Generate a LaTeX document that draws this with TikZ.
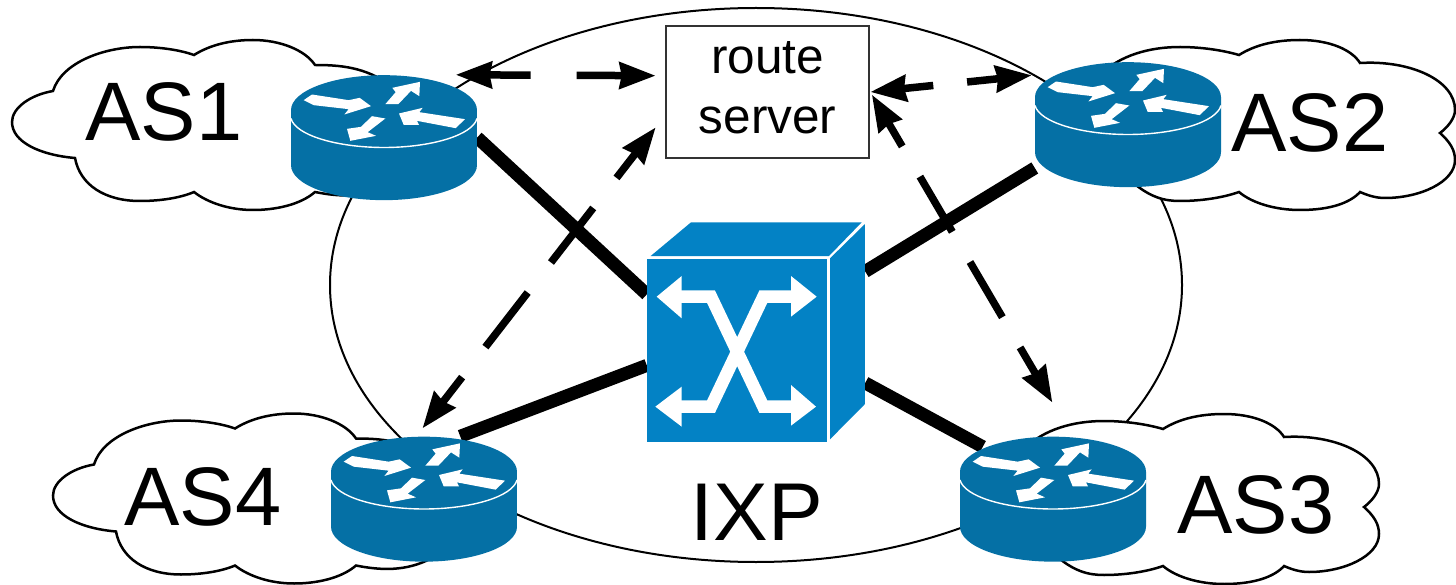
\documentclass[tikz,border=0pt]{standalone}
\usepackage{fontspec}
\setmainfont{Liberation Sans}
\usetikzlibrary{arrows.meta}
\definecolor{routerblue}{HTML}{0570A5}
\definecolor{switchblue}{HTML}{0382C5}
\tikzset{
  x=1pt,y=-1pt,
  cloudline/.style={draw=black,fill=white,line width=2.5pt},
  bigoval/.style={draw=black,line width=2pt},
  trunk/.style={draw=black,line width=13pt},
  signal/.style={draw=black,line width=7.5pt,
    {Stealth[length=36pt,width=26pt,inset=2pt]}-{Stealth[length=36pt,width=26pt,inset=2pt]}},
  label/.style={font=\fontsize{83}{83}\selectfont,anchor=base,inner sep=0pt},
  portbox/.style={inner sep=0pt,minimum width=186pt,minimum height=125pt},
  swbox/.style={inner sep=0pt,minimum width=218pt,minimum height=220pt},
  serverbox/.style={draw=black!80,fill=white,line width=2.6pt,inner sep=0pt,
    minimum width=203pt,minimum height=132pt,align=center,
    font=\fontsize{49.5}{60}\selectfont},
}
\newcommand{\routericon}[1]{%
  \begin{scope}[shift={(#1)},x=0.3333pt,y=-0.3333pt,shift={(-341,-262)}]
    \fill[routerblue] (62,180) .. controls (62,122) and (187,75) .. (341,75)
      .. controls (495,75) and (620,122) .. (620,180) -- (620,345)
      .. controls (620,403) and (495,450) .. (341,450)
      .. controls (187,450) and (62,403) .. (62,345) -- cycle;
    \draw[white,line width=1.4pt] (62,205) .. controls (75,255) and (200,292) .. (341,292)
      .. controls (482,292) and (607,255) .. (620,205);
    \fill[white] (100,150)--(125,133)--(235,150)--(268,143)--(302,168)--(222,193)--(235,177)--(130,165)--cycle;
    \fill[white] (345,162)--(376,126)--(366,113)--(449,95)--(447,138)--(422,122)--(384,162)--cycle;
    \fill[white] (584,207)--(556,234)--(440,212)--(446,224)--(400,224)--(386,190)--(457,173)--(447,186)--cycle;
    \fill[white] (345,205)--(305,198)--(272,230)--(230,236)--(240,272)--(317,257)--(292,246)--cycle;
  \end{scope}}
\newcommand{\switchicon}[1]{%
  \begin{scope}[shift={(#1)},x=0.3333pt,y=-0.3333pt,shift={(-378,-366)}]
    \fill[switchblue] (50,148) rectangle (592,697);
    \fill[switchblue] (62,138)--(183,37)--(695,37)--(597,138)--cycle;
    \fill[switchblue] (600,145)--(705,42)--(705,582)--(600,688)--cycle;
    \draw[white,line width=12.5pt,line join=miter] (150,260)--(243,260)--(400,590)--(490,590);
    \draw[white,line width=12.5pt,line join=miter] (150,590)--(243,590)--(400,260)--(490,260);
    \fill[white] (155,198)--(80,260)--(155,325)--cycle;
    \fill[white] (483,198)--(560,260)--(483,320)--cycle;
    \fill[white] (155,530)--(76,590)--(155,650)--cycle;
    \fill[white] (483,525)--(558,590)--(483,647)--cycle;
  \end{scope}}
\newcommand{\leftcloud}[1]{%
  \path[cloudline,shift={(#1)}] (53,91) .. controls (62,62) and (105,47) .. (140,47)
    .. controls (160,47) and (180,50) .. (194,55)
    .. controls (210,45) and (230,40) .. (253,40)
    .. controls (280,40) and (305,50) .. (315,65)
    .. controls (340,65) and (365,67) .. (390,85) -- (390,185)
    .. controls (365,198) and (340,197) .. (315,192)
    .. controls (300,205) and (275,210) .. (253,210)
    .. controls (230,210) and (208,203) .. (194,192)
    .. controls (180,198) and (160,201) .. (140,201)
    .. controls (105,201) and (80,185) .. (75,158)
    .. controls (40,155) and (12,142) .. (12,122)
    .. controls (12,108) and (30,95) .. (53,91) -- cycle;}
\newcommand{\rightcloud}[1]{%
  \path[cloudline,shift={(#1)}] (1239,55) .. controls (1255,45) and (1275,40) .. (1300,40)
    .. controls (1330,40) and (1352,50) .. (1360,63)
    .. controls (1410,60) and (1455,80) .. (1455,110)
    .. controls (1455,118) and (1448,127) .. (1440,133)
    .. controls (1450,142) and (1455,150) .. (1455,160)
    .. controls (1455,182) and (1420,198) .. (1385,198)
    .. controls (1375,198) and (1367,195) .. (1360,192)
    .. controls (1350,203) and (1330,210) .. (1300,210)
    .. controls (1275,210) and (1252,203) .. (1239,192)
    .. controls (1222,198) and (1200,201) .. (1180,201)
    .. controls (1165,201) and (1150,198) .. (1130,180) -- (1100,75)
    .. controls (1120,55) and (1150,47) .. (1180,47)
    .. controls (1200,47) and (1222,50) .. (1239,55) -- cycle;}
\begin{document}
\begin{tikzpicture}
  \useasboundingbox (0,0) rectangle (1456,585);
  \draw[bigoval] (756,285) ellipse [x radius=426,y radius=277];
  \leftcloud{0,0}
  \leftcloud{41,373.5}
  \rightcloud{0,0}
  \rightcloud{-76,374}

  \node[portbox] (r1) at (384,137.5) {};
  \node[portbox] (r2) at (1128,124.5) {};
  \node[portbox] (r3) at (1053,499) {};
  \node[portbox] (r4) at (424,499) {};
  \node[swbox] (sw) at (756,332) {};

  \draw[trunk] (r1.east) -- (sw.161);
  \draw[trunk] (r2.205) -- (sw.29.6);
  \draw[trunk,shorten >=-22pt] (sw.-25) -- (r3.145.7);
  \draw[trunk] (r4.60) -- (sw.197.8);

  \routericon{r1}
  \routericon{r2}
  \routericon{r3}
  \routericon{r4}
  \switchicon{sw}

  \node[serverbox] (rs) at (767.5,92) {route\\server\\[-52pt]\mbox{}};

  \draw[signal,shorten <=2pt,shorten >=9pt,dash pattern=on 43pt off 46pt on 300pt off 0pt] (r1.42.6) -- (rs.171.6);
  \draw[signal,shorten <=3pt,dash pattern=on 33pt off 34pt on 300pt off 0pt] (r2.152.8) -- (rs.-0.5);
  \draw[signal,shorten <=3pt,shorten >=39pt,dash pattern=on 64pt off 35pt,dash phase=36pt] (rs.-0.6) -- (r3.73);
  \draw[signal,shorten <=14.6pt,shorten >=10pt,dash pattern=on 69pt off 38pt,dash phase=37pt] (rs.193) -- (r4.97);

  \node[label] (as1) at (164,141) {AS1};
  \node[label] (as2) at (1310,152) {AS2};
  \node[label] (as3) at (1256,533) {AS3};
  \node[label] (as4) at (203,525) {AS4};
  \node[label,font=\fontsize{82}{82}\selectfont] (ixp) at (757,540) {IXP};
\end{tikzpicture}
\end{document}
